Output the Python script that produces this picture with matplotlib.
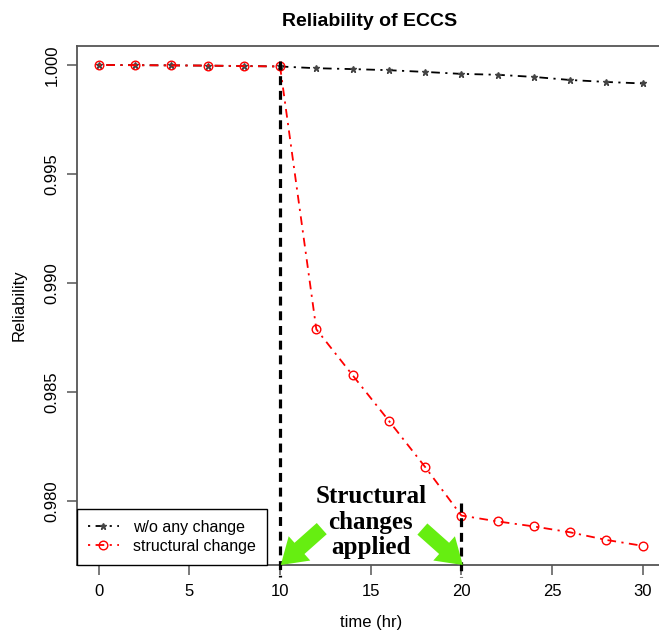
import matplotlib.pyplot as plt

plt.rcParams['font.family'] = ['Liberation Sans', 'DejaVu Sans']

# time points (hr)
time_hr = [0, 2, 4, 6, 8, 10, 12, 14, 16, 18, 20, 22, 24, 26, 28, 30]

# reliability without any change
rel_no_change = [1.00000, 0.99999, 0.99998, 0.99997, 0.99995, 0.99993,
                 0.99985, 0.99981, 0.99976, 0.99968, 0.99959, 0.99955,
                 0.99945, 0.99931, 0.99922, 0.99915]

# reliability with structural change applied between 10 and 20 hr
rel_structural = [1.00000, 0.99999, 0.99998, 0.99997, 0.99995, 0.99993,
                  0.98787, 0.98576, 0.98367, 0.98155, 0.97932, 0.97905,
                  0.97882, 0.97855, 0.97820, 0.97793]

change_start = 10
change_end = 20

x_ticks = [0, 5, 10, 15, 20, 25, 30]
y_ticks = [0.980, 0.985, 0.990, 0.995, 1.000]


def main() -> None:
    W, H = 659, 632
    fig = plt.figure(figsize=(W / 100, H / 100), dpi=100)

    px_per_unit = 18.13
    xlo, xhi = -1.2, 31.2
    left = 77 / W
    width = (xhi - xlo) * px_per_unit / W
    bottom = (H - 565) / H
    height = (565 - 46) / H
    ax = fig.add_axes([left, bottom, width, height])

    ymin, ymax = 0.97705, 1.00087
    ax.set_xlim(xlo, xhi)
    ax.set_ylim(ymin, ymax)

    dotdash = (0, (1.2, 3, 4.8, 3))
    ax.plot(time_hr, rel_no_change, color='black', linestyle=dotdash, lw=1.3,
            marker='*', markersize=5, markerfacecolor='#444444',
            markeredgecolor='#444444', label='w/o any change', zorder=3)
    ax.plot(time_hr, rel_structural, color='red', linestyle=dotdash, lw=1.3,
            marker='o', markersize=6.2, markerfacecolor='none',
            markeredgecolor='red', markeredgewidth=1.0,
            label='structural change', zorder=4)

    # vertical markers of the change window
    ax.plot([change_start, change_start], [1.0002, 0.9765], color='black',
            lw=2.3, linestyle=(0, (2.8, 1.8)), clip_on=False, zorder=5)
    ax.plot([change_end, change_end], [0.97989, 0.9765], color='black',
            lw=2.3, linestyle=(0, (2.8, 1.8)), clip_on=False, zorder=5)

    # green arrows and note
    arrow_style = 'simple,head_length=1.0,head_width=1.3,tail_width=0.6'
    for tip, tail in [((10.04, ymin), (12.3, 0.97872)),
                      ((20.08, ymin), (17.85, 0.97870))]:
        ax.annotate('', xy=tip, xytext=tail, annotation_clip=False,
                    arrowprops=dict(arrowstyle=arrow_style, color='#66ee11',
                                    mutation_scale=18, shrinkA=0, shrinkB=0,
                                    lw=0), zorder=6)
    ax.text(15.0, 0.97902, 'Structural\nchanges\napplied', ha='center',
            va='center', fontsize=18, fontweight='bold',
            family=['Liberation Serif', 'DejaVu Serif'], linespacing=1.12,
            zorder=7)

    spine_color = '#555555'
    for s in ax.spines.values():
        s.set_color(spine_color)
        s.set_linewidth(1.3)

    ax.set_xticks(x_ticks)
    ax.set_yticks(y_ticks)
    ax.set_yticklabels([f'{v:.3f}' for v in y_ticks], rotation=90, va='center')
    ax.tick_params(axis='both', length=7.5, width=1.1, color=spine_color,
                   labelsize=12, pad=6)
    ax.tick_params(axis='y', pad=5)

    ax.set_xlabel('time (hr)', fontsize=12)
    ax.xaxis.label.set_va('center')
    ax.xaxis.set_label_coords(0.5, -(623 - 565) / 519)
    ax.set_ylabel('Reliability', fontsize=12)
    ax.yaxis.label.set_va('center')
    ax.yaxis.set_label_coords(-(77 - 19) / (width * W), 0.5)

    fig.text(370 / W, 1 - 22 / H, 'Reliability of ECCS', ha='center',
             va='center', fontsize=14, fontweight='bold')

    leg = ax.legend(loc='lower left', bbox_to_anchor=(0, 0), borderaxespad=0,
                    fontsize=11.5, fancybox=False, framealpha=1,
                    edgecolor='black', labelspacing=0.25, borderpad=0.7,
                    handlelength=1.9, handletextpad=0.9, numpoints=1)
    leg.get_frame().set_linewidth(1.0)
    leg.set_zorder(8)

    fig.savefig('out.png', dpi=100)


if __name__ == '__main__':
    main()
